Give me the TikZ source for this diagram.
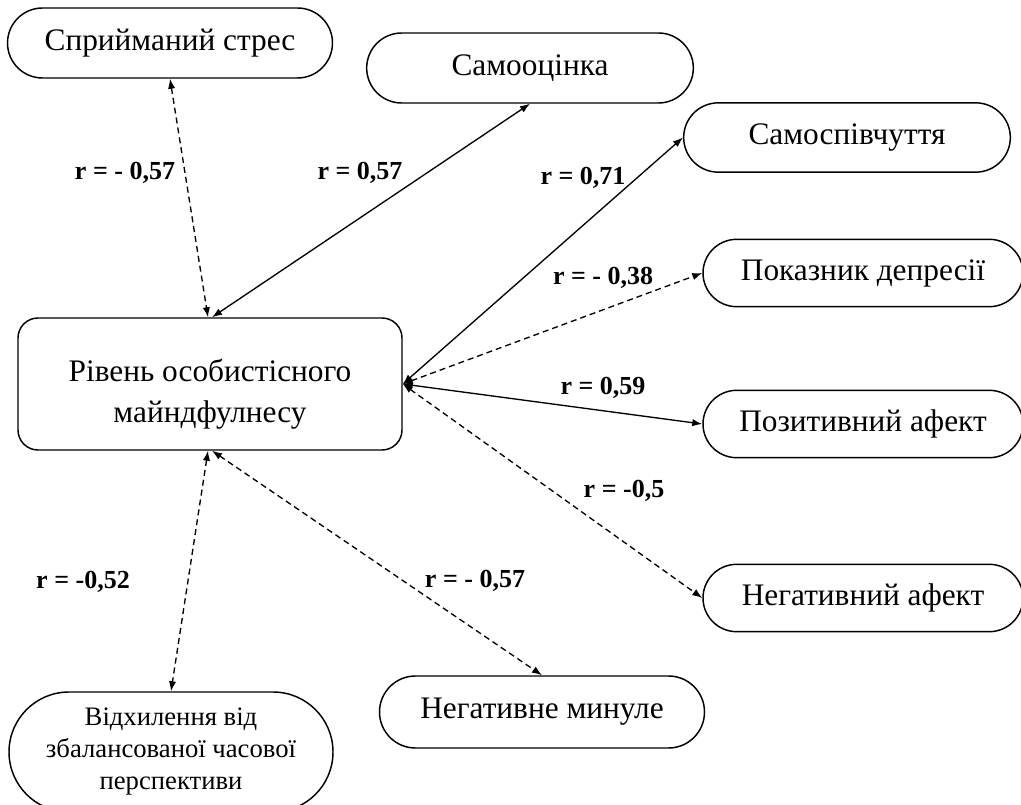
\documentclass[tikz,border=0pt]{standalone}
\usepackage{fontspec}
\setmainfont{Liberation Serif}
\usetikzlibrary{shapes.misc, arrows.meta}
\begin{document}
\begin{tikzpicture}[x=0.75pt, y=-0.75pt,
  pill/.style={draw, line width=1.1pt, rounded rectangle, inner sep=0pt,
    font=\fontsize{23.5}{28}\selectfont},
  rightpill/.style={pill, minimum width=240pt, minimum height=50.5pt},
  lbl/.style={font=\bfseries\fontsize{19.5}{23}\selectfont, inner sep=0pt, anchor=base},
  conn/.style={line width=1pt, {Latex[length=7.5pt,width=5.5pt]}-{Latex[length=7.5pt,width=5.5pt]}},
  dconn/.style={conn, dash pattern=on 4.5pt off 3pt}]
\useasboundingbox (0,0) rectangle (1021,805);

% central node
\node[draw, line width=1.1pt, rounded corners=15pt, minimum width=288pt, minimum height=99pt,
  align=center, font=\fontsize{23.5}{31}\selectfont, inner sep=0pt,
  text height=63pt, text depth=5pt] (mind) at (210,384)
  {Рівень особистісного\\майндфулнесу};

% outer nodes
\node[pill, minimum width=243.75pt, minimum height=52.5pt] (stress) at (170,43) {Сприйманий стрес};
\node[pill, minimum width=245pt, minimum height=52.5pt] (selfest) at (530,68) {Самооцінка};
\node[pill, minimum width=245pt, minimum height=52pt] (comp) at (847,137.5) {Самоспівчуття};
\node[rightpill] (dep) at (863,273) {Показник депресії};
\node[rightpill] (pos) at (863,424) {Позитивний афект};
\node[rightpill] (neg) at (863,598) {Негативний афект};
\node[pill, minimum width=243.75pt, minimum height=54pt] (past) at (542,712) {Негативне минуле};
\node[pill, minimum width=243pt, minimum height=90pt, align=center,
  font=\fontsize{20}{24}\selectfont] (dev) at (171,752)
  {Відхилення від\\збалансованої часової\\перспективи};

% connectors
\draw[dconn] (stress.south) -- ([xshift=-1.5pt]mind.north);
\draw[conn] (selfest.south) -- ([xshift=1.5pt]mind.north);
\draw[conn] (mind.east) -- (comp.west);
\draw[dconn] (mind.east) -- (dep.west);
\draw[conn] (mind.east) -- (pos.west);
\draw[dconn] (mind.east) -- (neg.west);
\draw[dconn] ([xshift=1.5pt]mind.south) -- (past.north);
\draw[dconn] ([xshift=-1.5pt]mind.south) -- (dev.north);

% labels
\node[lbl] (l1) at (125,180) {r = - 0,57};
\node[lbl] (l2) at (360,180) {r = 0,57};
\node[lbl] (l3) at (583,185) {r = 0,71};
\node[lbl] (l4) at (603,285) {r = - 0,38};
\node[lbl] (l5) at (603,395) {r = 0,59};
\node[lbl] (l6) at (624,497) {r = -0,5};
\node[lbl] (l7) at (475,587) {r = - 0,57};
\node[lbl] (l8) at (83,588) {r = -0,52};
\end{tikzpicture}
\end{document}
